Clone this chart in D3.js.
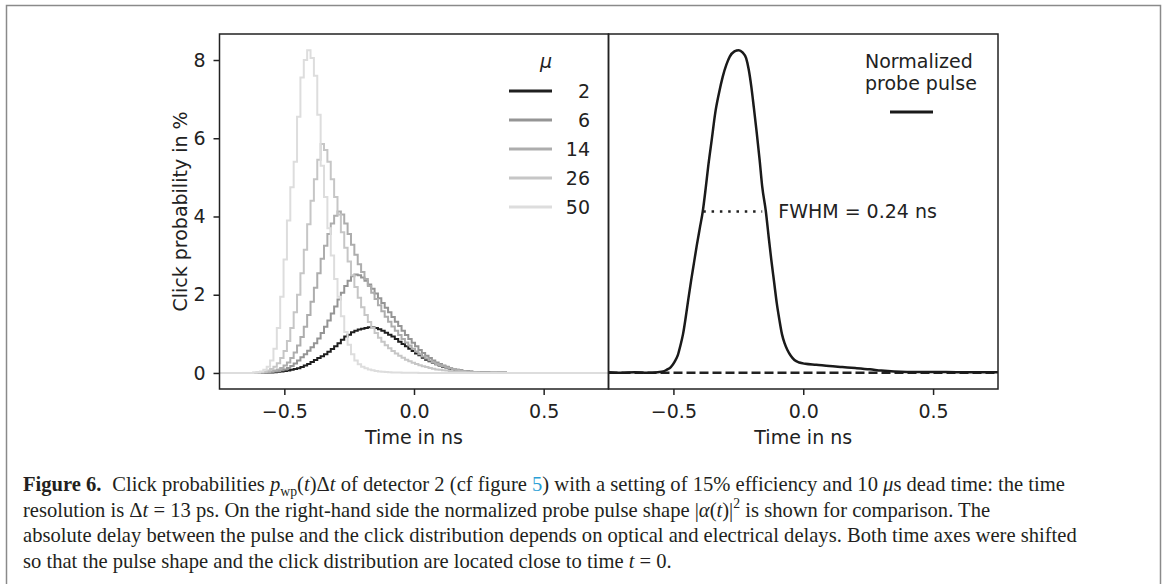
<!DOCTYPE html>
<html lang="en">
<head>
<meta charset="UTF-8">
<title>Click probabilities</title>
<script src="https://d3js.org/d3.v7.min.js"></script>
<style>
  body { margin: 0; background: #fff; }
  svg text { font-family: 'DejaVu Sans', sans-serif; fill: #222; }
  .caption text { font-family: 'Liberation Serif', serif; fill: #231f20; }
</style>
</head>
<body>
<script>
// histogram bins of the click probability (bin width = time resolution 13 ps)
const binStart = -0.62, binWidth = 0.013;
const muValues = [2, 6, 14, 26, 50];
const muColors = ['#1f1f1f', '#959595', '#adadad', '#c6c6c6', '#dddddd'];

const clickMu2 = [
  0, 0, 0.005, 0.005, 0.01, 0.015, 0.02, 0.03, 0.04, 0.05,
  0.06, 0.08, 0.10, 0.12, 0.15, 0.19, 0.23, 0.28, 0.33, 0.38,
  0.43, 0.48, 0.54, 0.61, 0.68, 0.76, 0.85, 0.93, 0.98, 1.04,
  1.08, 1.11, 1.13, 1.15, 1.17, 1.16, 1.15, 1.12, 1.08, 1.03,
  0.98, 0.93, 0.87, 0.80, 0.74, 0.68, 0.62, 0.56, 0.50, 0.45,
  0.39, 0.34, 0.30, 0.26, 0.22, 0.19, 0.16, 0.14, 0.11, 0.09,
  0.075, 0.06, 0.05, 0.04, 0.03, 0.025, 0.02, 0.015, 0.01, 0.01,
  0.008, 0.006, 0.005, 0.004, 0.003, 0.002, 0.001, 0];
const clickMu6 = [
  0, 0, 0.005, 0.01, 0.02, 0.03, 0.04, 0.05, 0.07, 0.09,
  0.13, 0.18, 0.24, 0.32, 0.40, 0.48, 0.57, 0.66, 0.76, 0.88,
  1.02, 1.18, 1.34, 1.52, 1.70, 1.88, 2.05, 2.22, 2.36, 2.47,
  2.52, 2.50, 2.44, 2.36, 2.26, 2.15, 2.03, 1.91, 1.79, 1.67,
  1.55, 1.43, 1.31, 1.20, 1.08, 0.97, 0.87, 0.77, 0.68, 0.59,
  0.51, 0.44, 0.38, 0.32, 0.27, 0.23, 0.19, 0.16, 0.13, 0.10,
  0.08, 0.065, 0.05, 0.04, 0.03, 0.025, 0.02, 0.015, 0.01, 0.01,
  0.008, 0.006, 0.005, 0.004, 0.003, 0.002, 0.001, 0];
const clickMu14 = [
  0, 0.005, 0.01, 0.015, 0.025, 0.04, 0.06, 0.09, 0.13, 0.19,
  0.27, 0.38, 0.52, 0.70, 0.92, 1.18, 1.48, 1.82, 2.18, 2.55,
  2.92, 3.25, 3.55, 3.82, 4.02, 4.13, 4.05, 3.82, 3.55, 3.28,
  3.02, 2.78, 2.58, 2.40, 2.22, 2.05, 1.89, 1.73, 1.58, 1.44,
  1.31, 1.19, 1.08, 0.97, 0.87, 0.78, 0.70, 0.62, 0.55, 0.48,
  0.42, 0.37, 0.32, 0.27, 0.23, 0.20, 0.17, 0.14, 0.12, 0.10,
  0.08, 0.065, 0.05, 0.04, 0.03, 0.025, 0.02, 0.015, 0.01, 0.01,
  0.008, 0.006, 0.005, 0.004, 0.003, 0.002, 0.001, 0];
const clickMu26 = [
  0.005, 0.01, 0.02, 0.03, 0.06, 0.10, 0.16, 0.25, 0.38, 0.56,
  0.82, 1.15, 1.55, 2.0, 2.55, 3.15, 3.8, 4.4, 4.95, 5.45,
  5.85, 5.7, 5.4, 4.95, 4.5, 4.05, 3.6, 3.2, 2.85, 2.5,
  2.2, 1.92, 1.68, 1.48, 1.3, 1.15, 1.02, 0.9, 0.8, 0.71,
  0.63, 0.56, 0.5, 0.44, 0.39, 0.34, 0.3, 0.26, 0.23, 0.2,
  0.17, 0.15, 0.13, 0.11, 0.09, 0.08, 0.07, 0.06, 0.05, 0.04,
  0.035, 0.03, 0.025, 0.02, 0.015, 0.012, 0.01, 0.008, 0.006, 0.005,
  0.004, 0.003, 0.002, 0.002, 0.001, 0.001, 0, 0];
const clickMu50 = [
  0.01, 0.02, 0.04, 0.08, 0.16, 0.32, 0.62, 1.15, 1.95, 2.9,
  3.9, 4.75, 5.4, 6.55, 7.55, 8.0, 8.25, 8.05, 7.6, 6.6,
  5.3, 4.5, 3.7, 3.0, 2.4, 1.95, 1.45, 1.05, 0.72, 0.48,
  0.32, 0.22, 0.16, 0.12, 0.09, 0.07, 0.05, 0.04, 0.03, 0.025,
  0.02, 0.015, 0.012, 0.01, 0.008, 0.006, 0.005, 0.004, 0.003, 0.002,
  0.002, 0.001, 0, 0, 0, 0, 0, 0, 0, 0,
  0, 0, 0, 0, 0, 0, 0, 0, 0, 0,
  0, 0, 0, 0, 0, 0, 0, 0];
const clickSeries = [clickMu2, clickMu6, clickMu14, clickMu26, clickMu50];

// normalized probe pulse
const pulseTime = [-0.75, -0.70, -0.65, -0.60, -0.56, -0.54, -0.525, -0.51, -0.495, -0.483,
  -0.473, -0.463, -0.453, -0.443, -0.432, -0.421, -0.41, -0.398, -0.387, -0.376,
  -0.366, -0.352, -0.339, -0.325, -0.31, -0.296, -0.283, -0.265, -0.248, -0.234,
  -0.22, -0.21, -0.2, -0.19, -0.179, -0.168, -0.158, -0.144, -0.133, -0.123,
  -0.112, -0.102, -0.092, -0.082, -0.072, -0.061, -0.048, -0.034, -0.015, 0.008,
  0.05, 0.1, 0.15, 0.2, 0.257, 0.3, 0.35, 0.4, 0.5, 0.6, 0.75];
const pulseValue = [0.002, 0.0, 0.002, 0.0, 0.002, 0.004, 0.01, 0.018, 0.035, 0.055,
  0.085, 0.12, 0.17, 0.226, 0.285, 0.34, 0.395, 0.45, 0.5, 0.57,
  0.64, 0.725, 0.805, 0.865, 0.918, 0.955, 0.98, 0.996, 1.0, 0.993,
  0.975, 0.94, 0.887, 0.82, 0.743, 0.66, 0.577, 0.5, 0.42, 0.35,
  0.28, 0.216, 0.165, 0.12, 0.092, 0.071, 0.053, 0.04, 0.032, 0.028,
  0.025, 0.021, 0.018, 0.015, 0.011, 0.007, 0.004, 0.003, 0.003, 0.002, 0.002];
const fwhmLevel = 0.5, fwhmStart = -0.385, fwhmEnd = -0.158;
const fwhmLabel = 'FWHM = 0.24 ns';

const xTicks = [-0.5, 0, 0.5];
const yTicks = [0, 2, 4, 6, 8];

const W = 1163, H = 584;
const plotTop = 34, plotBottom = 389;
const fs = 19;

const svg = d3.select('body').append('svg')
    .attr('width', W).attr('height', H);

// outer frame
svg.append('rect')
    .attr('x', 6.5).attr('y', 5.5)
    .attr('width', 1154).attr('height', 620)
    .attr('fill', 'none').attr('stroke', '#8a8a8a').attr('stroke-width', 1.5);

const xL = d3.scaleLinear().domain([-0.75, 0.75]).range([219.5, 608.5]);
const xR = d3.scaleLinear().domain([-0.75, 0.75]).range([608.5, 998]);
const yL = d3.scaleLinear().domain([-0.41, 8.665]).range([plotBottom, plotTop]);
const yR = d3.scaleLinear().domain([-0.05, 1.05]).range([plotBottom, plotTop]);

const defs = svg.append('defs');
[['clipL', xL], ['clipR', xR]].forEach(([id, sc]) => {
  defs.append('clipPath').attr('id', id).append('rect')
      .attr('x', sc.range()[0]).attr('y', plotTop)
      .attr('width', sc.range()[1] - sc.range()[0]).attr('height', plotBottom - plotTop);
});

// ---- left panel: click probabilities ----
const stepLine = d3.line()
    .x(d => xL(d[0])).y(d => yL(d[1]))
    .curve(d3.curveStepAfter);

function stepPoints(vals) {
  const pts = [[-0.75, 0]];
  vals.forEach((v, i) => pts.push([binStart + i * binWidth, v]));
  pts.push([binStart + vals.length * binWidth, 0]);
  pts.push([0.75, 0]);
  return pts;
}

const gL = svg.append('g').attr('clip-path', 'url(#clipL)');
clickSeries.forEach((vals, i) => {
  gL.append('path')
      .attr('d', stepLine(stepPoints(vals)))
      .attr('fill', 'none')
      .attr('stroke', muColors[i])
      .attr('stroke-width', 2);
});

// ---- right panel: probe pulse ----
const gR = svg.append('g').attr('clip-path', 'url(#clipR)');
gR.append('line')
    .attr('x1', xR(-0.75)).attr('x2', xR(0.75))
    .attr('y1', yR(0)).attr('y2', yR(0))
    .attr('stroke', '#222').attr('stroke-width', 2.5)
    .attr('stroke-dasharray', '9,4');

const pulseLine = d3.line()
    .x((d, i) => xR(pulseTime[i])).y(d => yR(d))
    .curve(d3.curveMonotoneX);
gR.append('path')
    .attr('d', pulseLine(pulseValue))
    .attr('fill', 'none')
    .attr('stroke', '#1a1a1a')
    .attr('stroke-width', 2.5);

// FWHM marker
svg.append('line')
    .attr('x1', xR(fwhmStart)).attr('x2', xR(fwhmEnd))
    .attr('y1', yR(fwhmLevel)).attr('y2', yR(fwhmLevel))
    .attr('stroke', '#222').attr('stroke-width', 2.5)
    .attr('stroke-dasharray', '2.5,5.8');
svg.append('text')
    .attr('x', xR(fwhmEnd) + 16).attr('y', yR(fwhmLevel))
    .attr('dy', '0.36em')
    .style('font-size', fs + 'px')
    .text(fwhmLabel);

// ---- axes ----
function styleAxis(g) {
  g.select('.domain').remove();
  g.selectAll('.tick line').attr('stroke', '#222').attr('stroke-width', 1.5);
  g.selectAll('.tick text')
      .style('font-size', fs + 'px')
      .style('font-family', "'DejaVu Sans', sans-serif")
      .attr('fill', '#222');
}

svg.append('g')
    .attr('transform', `translate(0,${plotBottom})`)
    .call(d3.axisBottom(xL).tickValues(xTicks).tickFormat(d3.format('.1f')).tickSize(6).tickPadding(10))
    .call(styleAxis);
svg.append('g')
    .attr('transform', `translate(0,${plotBottom})`)
    .call(d3.axisBottom(xR).tickValues(xTicks).tickFormat(d3.format('.1f')).tickSize(6).tickPadding(10))
    .call(styleAxis);
svg.append('g')
    .attr('transform', `translate(${xL.range()[0]},0)`)
    .call(d3.axisLeft(yL).tickValues(yTicks).tickFormat(d3.format('d')).tickSize(6).tickPadding(8))
    .call(styleAxis);

// spines
[xL, xR].forEach(sc => {
  svg.append('rect')
      .attr('x', sc.range()[0]).attr('y', plotTop)
      .attr('width', sc.range()[1] - sc.range()[0]).attr('height', plotBottom - plotTop)
      .attr('fill', 'none').attr('stroke', '#222').attr('stroke-width', 1.5);
});

// axis labels
[xL, xR].forEach(sc => {
  svg.append('text')
      .attr('x', (sc.range()[0] + sc.range()[1]) / 2).attr('y', 444)
      .attr('text-anchor', 'middle')
      .style('font-size', fs + 'px')
      .text('Time in ns');
});
svg.append('text')
    .attr('transform', `translate(187,${(plotTop + plotBottom) / 2}) rotate(-90)`)
    .attr('text-anchor', 'middle')
    .style('font-size', fs + 'px')
    .text('Click probability in %');

// ---- legends ----
svg.append('text')
    .attr('x', 546).attr('y', 68)
    .attr('text-anchor', 'middle')
    .style('font-size', fs + 'px').style('font-style', 'italic')
    .text('\u03bc');
muValues.forEach((mu, i) => {
  const y = 91 + i * 29;
  svg.append('line')
      .attr('x1', 509).attr('x2', 552).attr('y1', y).attr('y2', y)
      .attr('stroke', muColors[i]).attr('stroke-width', 2.8);
  svg.append('text')
      .attr('x', 590).attr('y', y).attr('dy', '0.36em')
      .attr('text-anchor', 'end')
      .style('font-size', fs + 'px')
      .text(mu);
});

svg.append('text')
    .attr('x', 865).attr('y', 68)
    .style('font-size', fs + 'px')
    .text('Normalized');
svg.append('text')
    .attr('x', 865).attr('y', 90)
    .style('font-size', fs + 'px')
    .text('probe pulse');
svg.append('line')
    .attr('x1', 890).attr('x2', 933).attr('y1', 112).attr('y2', 112)
    .attr('stroke', '#1a1a1a').attr('stroke-width', 2.8);

// ---- caption ----
const captionLines = [
  [{t: 'Figure 6.', b: 1}, {t: 'Click probabilities ', dx: 11}, {t: 'p', i: 1}, {t: 'wp', sub: 1}, {t: '('}, {t: 't', i: 1},
   {t: ')\u0394'}, {t: 't', i: 1}, {t: ' of detector 2 (cf figure '}, {t: '5', c: '#2a9fd6'},
   {t: ') with a setting of 15% efficiency and 10 '}, {t: '\u03bc', i: 1}, {t: 's dead time: the time'}],
  [{t: 'resolution is \u0394'}, {t: 't', i: 1}, {t: ' = 13 ps. On the right-hand side the normalized probe pulse shape |'},
   {t: '\u03b1', i: 1}, {t: '('}, {t: 't', i: 1}, {t: ')|'}, {t: '2', sup: 1}, {t: ' is shown for comparison. The'}],
  [{t: 'absolute delay between the pulse and the click distribution depends on optical and electrical delays. Both time axes were shifted'}],
  [{t: 'so that the pulse shape and the click distribution are located close to time '}, {t: 't', i: 1}, {t: ' = 0.'}]
];
const captionX = 23, captionY = [491, 516.5, 542, 567.5], captionEnd = 1078;

const cap = svg.append('g').attr('class', 'caption');
const lineNodes = captionLines.map((segs, li) => {
  const g = cap.append('g');
  const txt = g.append('text').attr('x', 0).attr('y', 0).style('font-size', '21px');
  let shift = 0;
  segs.forEach(s => {
    const ts = txt.append('tspan').text(s.t);
    let target = s.sub ? 5 : s.sup ? -9 : 0;
    if (target !== shift) { ts.attr('dy', target - shift); shift = target; }
    if (s.dx) ts.attr('dx', s.dx);
    if (s.sub || s.sup) ts.style('font-size', '14px');
    if (s.b) ts.style('font-weight', 'bold');
    if (s.i) ts.style('font-style', 'italic');
    if (s.c) ts.style('fill', s.c);
  });
  return g;
});
const refWidth = lineNodes[2].node().getBBox().width;
const sx = (captionEnd - captionX) / refWidth;
lineNodes.forEach((g, i) => {
  g.attr('transform', `translate(${captionX},${captionY[i]}) scale(${sx},1)`);
});
</script>
</body>
</html>
